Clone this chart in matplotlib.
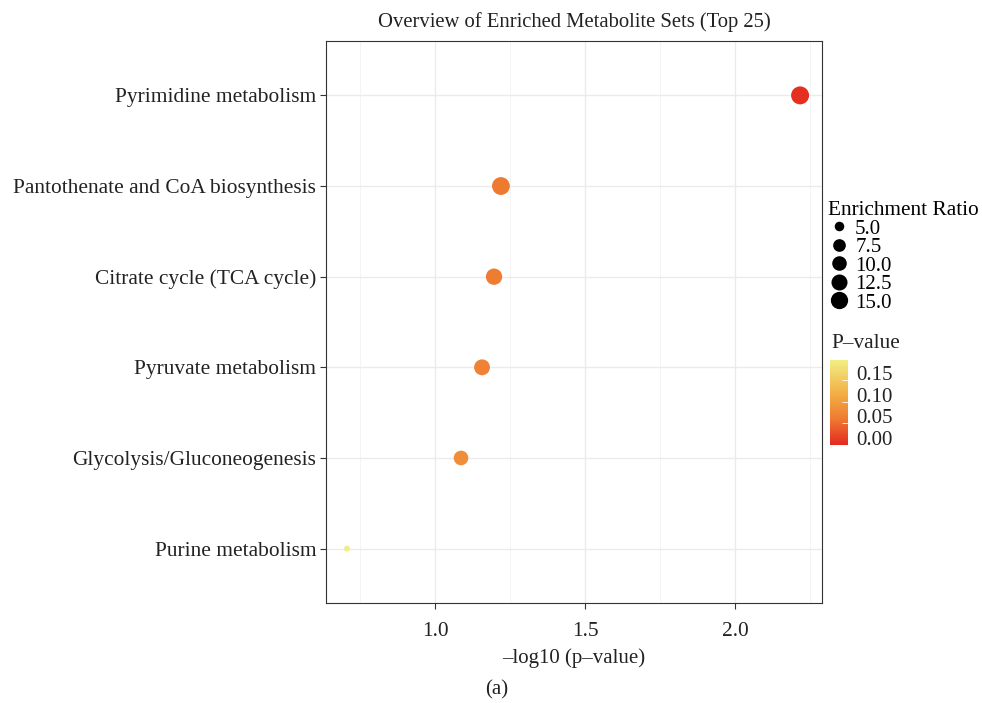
import numpy as np
import matplotlib
matplotlib.use("Agg")
import matplotlib.pyplot as plt
from matplotlib.colors import LinearSegmentedColormap, Normalize
from matplotlib.ticker import MultipleLocator
from matplotlib.lines import Line2D
from matplotlib.transforms import ScaledTranslation

plt.rcParams['font.family'] = ['Liberation Serif', 'DejaVu Serif']

pathways = ["Pyrimidine metabolism", "Pantothenate and CoA biosynthesis",
            "Citrate cycle (TCA cycle)", "Pyruvate metabolism",
            "Glycolysis/Gluconeogenesis", "Purine metabolism"]
neglogp = [2.217, 1.220, 1.197, 1.157, 1.087, 0.707]
enrichment = [20.0, 19.5, 16.0, 15.0, 12.5, 4.5]
size_breaks = [5.0, 7.5, 10.0, 12.5, 15.0]
p_ticks = [0.00, 0.05, 0.10, 0.15]

pvals = [10 ** (-v) for v in neglogp]

W, H = 982, 703
fig = plt.figure(figsize=(W / 100, H / 100), dpi=100)
ax = fig.add_axes([326 / W, 1 - 603 / H, (822 - 326) / W, (603 - 41) / H])

cmap = LinearSegmentedColormap.from_list(
    "pv", [(0.0, "#E4291F"), (0.3, "#EE7930"), (0.6, "#F2AE45"), (1.0, "#F2EE84")])
norm = Normalize(vmin=0.0, vmax=max(pvals))

emin, emax = min(enrichment), max(enrichment)


def size_of(e):
    t = np.clip((np.asarray(e, float) - emin) / (emax - emin), 0, 1)
    d_px = 6 + 12 * np.sqrt(t)
    return (d_px * 0.72) ** 2


n = len(pathways)
ypos = np.arange(n)[::-1] + 1

ax.scatter(neglogp, ypos, s=size_of(enrichment), c=pvals, cmap=cmap, norm=norm,
           edgecolors='none', zorder=3)

ax.set_yticks(ypos)
ax.set_yticklabels(pathways)
ax.set_ylim(0.4, n + 0.6)
ax.set_xlim(0.637, 2.29)
ax.xaxis.set_minor_locator(MultipleLocator(0.25))
ax.set_xticks([1.0, 1.5, 2.0])
ax.set_xticklabels(["1.0", "1.5", "2.0"])
ax.grid(which='major', color='#EBEBEB', linewidth=1.0, zorder=0)
ax.grid(which='minor', axis='x', color='#F2F2F2', linewidth=0.6, zorder=0)
ax.set_axisbelow(True)
for sp in ax.spines.values():
    sp.set_color('#333333')
    sp.set_linewidth(0.8)
ax.tick_params(which='major', length=4, color='#333333', width=0.8,
               labelsize=15.4, labelcolor='#222222')
ax.tick_params(axis='x', pad=10)
ax.tick_params(axis='y', pad=3)
ax.tick_params(which='minor', length=0)
ax.set_xlabel("\u2013log10 (p\u2013value)", fontsize=15, color='#222222', labelpad=5)
ax.set_title("Overview of Enriched Metabolite Sets (Top 25)", fontsize=14.9,
             color='#222222', pad=10)

fig.text(497 / W, 1 - 690 / H, "(a)", fontsize=15, ha='center', va='center',
         color='#222222')

# size legend
handles = [Line2D([], [], linestyle='none', marker='o', color='black',
                  markersize=np.sqrt(size_of(b))) for b in size_breaks]
leg = fig.legend(handles, [f"{b:.1f}" for b in size_breaks], loc='upper left',
                 bbox_to_anchor=(826 / W, 1 - 199 / H), frameon=False,
                 title="Enrichment Ratio", fontsize=15, title_fontsize=15.3,
                 handletextpad=0.3, labelspacing=-0.05, handlelength=1.0,
                 borderpad=0.1, borderaxespad=0)
leg._legend_box.align = "left"

# colorbar
cax = fig.add_axes([830 / W, 1 - 445 / H, 18 / W, 85 / H])
sm = matplotlib.cm.ScalarMappable(norm=norm, cmap=cmap)
cb = fig.colorbar(sm, cax=cax, ticks=p_ticks)
cb.outline.set_visible(False)
cb.ax.set_yticklabels([f"{t:.2f}" for t in p_ticks])
cb.ax.tick_params(length=4, color='#FFFFFF', width=0.6, labelsize=15,
                  labelcolor='#222222', pad=6, direction='in')
off = ScaledTranslation(0, 7 / 100, fig.dpi_scale_trans)
for lab in cb.ax.get_yticklabels():
    lab.set_transform(lab.get_transform() + off)
fig.text(831 / W, 1 - 344 / H, "P\u2013value", fontsize=15.3, ha='left',
         va='center', color='#222222')

fig.savefig("out.png", dpi=100)
